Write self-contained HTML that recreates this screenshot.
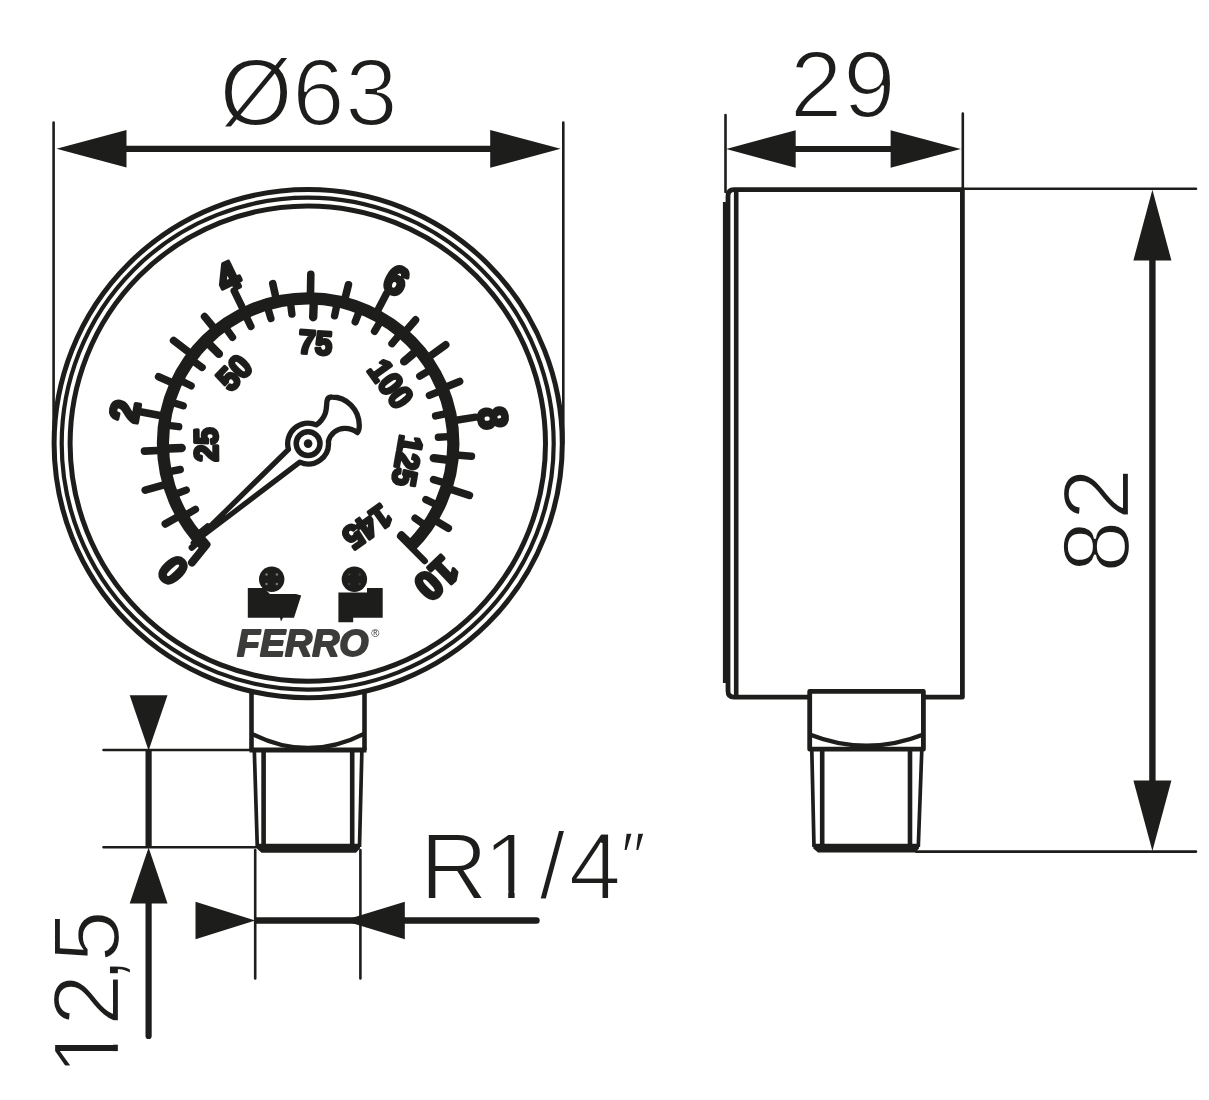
<!DOCTYPE html>
<html lang="en"><head><meta charset="utf-8"><title>Manometer 63 mm R1/4 dimensions</title>
<style>html,body{margin:0;padding:0;background:#fff}body{width:1209px;height:1100px;overflow:hidden}svg{display:block;will-change:transform}.dim{font-family:"Liberation Sans",sans-serif;font-size:94px;fill:#1d1d1b;stroke:#fff;stroke-width:2.2px}.bar{font-family:"Liberation Sans",sans-serif;font-weight:bold;font-size:40px;fill:#1d1d1b;stroke:#1d1d1b;stroke-width:4px;stroke-linejoin:round;text-anchor:middle}.psi{font-family:"Liberation Sans",sans-serif;font-weight:bold;font-size:33px;fill:#1d1d1b;stroke:#1d1d1b;stroke-width:3.3px;stroke-linejoin:round;text-anchor:middle}.logo{font-family:"Liberation Sans",sans-serif;font-weight:bold;font-style:italic;font-size:36.4px;fill:#3c3c3b;stroke:#3c3c3b;stroke-width:1.8px;stroke-linejoin:round}.reg{font-family:"Liberation Sans",sans-serif;font-size:11px;fill:#3c3c3b}</style></head><body>
<svg width="1209" height="1100" viewBox="0 0 1209 1100">
<rect width="1209" height="1100" fill="#fff"/>
<g fill="none" stroke="#1d1d1b">
<path d="M251.5 690V750M364.5 690V750" stroke-width="4.6"/>
<circle cx="308.2" cy="443.6" r="254.1" stroke-width="5" fill="#fff"/>
<circle cx="307.7" cy="443.6" r="246" stroke-width="4.2"/>
<circle cx="307.8" cy="443.6" r="237.7" stroke-width="5"/>
</g>
<g fill="none" stroke="#1d1d1b" stroke-linecap="round">
<path d="M204.4 545.2A145.2 145.2 0 1 1 410.6 546.5" stroke-width="12.2" stroke-linecap="butt"/>
<path d="M165.4 416.5L141.5 412M244.9 312.9L234.2 290.9M375.4 314.9L386.7 293.3M451.5 421L475.6 417.2" stroke-width="7.4"/>
<path d="M181.5 514.7L165.3 523.9M168.5 483.6L145.2 490.2M163.1 450.2L144.5 451.1M175.6 384.3L158.6 376.7M192.8 355.3L173.6 340.6M216.4 331L204.6 316.6M276.8 301.8L272.8 283.7M310.4 298.4L310.8 274.2M343.9 302.9L348.4 284.8M403.3 334L415.5 319.9M426.1 359L445.7 344.8M442.4 388.5L459.6 381.4M452.9 454.8L471.4 456.2M446.4 487.9L469.4 495.3M432.4 518.7L448.3 528.3" stroke-width="7.6"/>
<path d="M196.4 536.4L207.7 527M182.7 516.8L195.4 509.4M172.4 495.3L186.2 490.1M165.8 472.4L180.2 469.5M164.1 424.8L178.7 426.7M169.1 401.5L183.2 405.8M177.9 379.3L191.1 385.8M190.2 358.8L202.1 367.4M223.9 325.3L232.5 337.3M244.5 313.1L250.9 326.3M266.7 304.4L270.9 318.5M290.1 299.5L291.9 314.1M337.6 301.4L334.6 315.8M360.5 308.2L355.2 321.9M382 318.6L374.5 331.3M401.5 332.4L392 343.7M432.4 368.6L419.8 376.2M443 389.9L429.4 395.4M450 412.8L435.6 415.9M453.1 436.4L438.4 437.2M447.7 483.7L433.5 479.6M439.2 506L425.9 499.7M427.2 526.7L415.1 518.2M412 545L401.5 534.8" stroke-width="7.4"/>
<path d="M163 448.7L181.7 448M205.7 340.7L218.9 353.9M313.9 298.5L313.2 317.2M418.4 349.2L404.2 361.4M452.3 460.3L433.8 458.1" stroke-width="8.4"/>
<path d="M199.9 540.4L191.8 547.6" stroke-width="6.4"/>
<path d="M400.1 536.2L424.7 561" stroke-width="6.4"/>
</g>
<text class="bar" transform="translate(172.5 570.5) rotate(226.9) scale(.95 1)" x="0" y="14.3">0</text>
<text class="bar" transform="translate(124.5 411) rotate(-79.9) scale(.95 1)" x="0" y="14.3">2</text>
<text class="bar" transform="translate(227.8 276.6) rotate(-25.7) scale(.95 1)" x="0" y="14.3">4</text>
<text class="bar" transform="translate(396.5 280) rotate(28.4) scale(.95 1)" x="0" y="14.3">6</text>
<text class="bar" transform="translate(493.4 417.7) rotate(82) scale(.95 1)" x="0" y="14.3">8</text>
<text class="bar" transform="translate(437 578.6) rotate(136.3) scale(.95 1)" x="0" y="14.3">10</text>
<text class="psi" transform="translate(205.7 444.7) rotate(269.4) scale(.92 1)" x="0" y="11.8">25</text>
<text class="psi" transform="translate(234 372.4) rotate(-46.1) scale(.92 1)" x="0" y="11.8">50</text>
<text class="psi" transform="translate(315.4 342.1) rotate(4.1) scale(.92 1)" x="0" y="11.8">75</text>
<text class="psi" transform="translate(391 383.6) rotate(54.1) scale(.92 1)" x="0" y="11.8">100</text>
<text class="psi" transform="translate(407.8 461) rotate(99.9) scale(.92 1)" x="0" y="11.8">125</text>
<text class="psi" transform="translate(367.5 527) rotate(144.5) scale(.92 1)" x="0" y="11.8">145</text>
<path d="M288.5 449.4A20.4 20.4 0 0 1 316.3 424.9C319 423.5 323.5 418.5 325.3 413.3C326.6 409.5 326.6 405 326.9 401.5C327.2 398.6 329 396.9 332 397C346 397 359.5 409 359.3 426C359.2 429 358.6 431.3 357.3 432.6C354 429.8 349 428.2 344.4 428.3C337 428.5 330.2 433.5 328.4 441.4A20.4 20.4 0 0 1 299.8 462.2L193.2 543Z" fill="#fff" stroke="#1d1d1b" stroke-width="5.3" stroke-linejoin="round"/>
<path d="M206.5 544.5L192 562.6" stroke="#1d1d1b" stroke-width="8" stroke-linecap="round"/>
<circle cx="308.1" cy="443.6" r="11.9" fill="#fff" stroke="#1d1d1b" stroke-width="5.5"/>
<circle cx="308.1" cy="443.6" r="4.3" fill="#1d1d1b"/>
<g fill="#1d1d1b">
<circle cx="271.7" cy="579.3" r="12.7"/>
<path d="M247.8 588H264L270 594H296L301.2 595.5 294 617.7H283L281 621.5 280 617.7H247.8Z"/>
<circle cx="354.4" cy="579.3" r="12.7"/>
<path d="M338.4 592.4H367V588H382.7V617.7H353.2V622.2H338.4Z"/>
</g>
<g fill="#77776f"><circle cx="266.5" cy="574.5" r="1.25"/><circle cx="266.5" cy="584.1" r="1.25"/><circle cx="276.9" cy="574.5" r="1.25"/><circle cx="276.9" cy="584.1" r="1.25"/></g>
<g fill="#3d3d39"><circle cx="349.2" cy="574.5" r="1.25"/><circle cx="349.2" cy="584.1" r="1.25"/><circle cx="359.6" cy="574.5" r="1.25"/><circle cx="359.6" cy="584.1" r="1.25"/></g>
<text class="logo" x="237" y="655.8" textLength="131.5" lengthAdjust="spacingAndGlyphs">FERRO</text>
<text class="reg" x="371.3" y="637">®</text>
<g fill="none" stroke="#1d1d1b">
<path d="M249.5 750H366.5" stroke-width="5.2"/>
<path d="M251.5 733.6Q308 762.5 364.5 733.6" stroke-width="4.4"/>
<path d="M254.3 750L257.3 847M361.9 750L359.5 847" stroke-width="3.7"/>
<path d="M263.6 752V845M352.2 752V845" stroke-width="4.6"/>
</g>
<path d="M256.8 843.8H360V848.5L356 852.7H261.5L256.8 848.5Z" fill="#1d1d1b"/>
<g stroke="#1d1d1b" fill="none" stroke-linecap="round">
<path d="M53.6 122.5V443M563.3 122.5V443" stroke-width="2.6"/>
<path d="M120 148.8H496" stroke-width="6.2" stroke-linecap="butt"/>
<path d="M103.5 750H256M103.5 847.2H256" stroke-width="2.6"/>
<path d="M255.2 850V978.5M360.4 850V978.5" stroke-width="2.6"/>
<path d="M148.6 750V848" stroke-width="6.2" stroke-linecap="butt"/>
<path d="M148.6 900V1036" stroke-width="6.2"/>
<path d="M254 920.5H400" stroke-width="6.4" stroke-linecap="butt"/>
<path d="M400 920.5H536.5" stroke-width="6.4"/>
</g>
<g fill="#1d1d1b">
<path d="M56.5 148.8L126.5 130V167.6Z"/>
<path d="M560.6 148.8L490.2 129.9V167.8Z"/>
<path d="M148.6 750.5L129.7 695.2H167.5Z"/>
<path d="M148.6 847.5L129.7 903.5H167.5Z"/>
<path d="M255.2 920.5L195.5 901.7V939.3Z"/>
<path d="M343.5 920.5L404.8 901.7V939.3Z"/>
</g>
<g fill="none" stroke="#1d1d1b" stroke-linejoin="round">
<path d="M809.7 697.2H734Q728 697.2 728 691V196Q728 189.7 734 189.7H962.4V697.2H923.4" stroke-width="4.8"/>
<path d="M736.2 189.7V697.2" stroke-width="4.6"/>
<rect x="809.7" y="691.4" width="113.7" height="57.8" stroke-width="4.8"/>
<path d="M809.7 734.5Q866.5 757 923.4 734.5" stroke-width="4.4"/>
<path d="M811.8 750L814 847M921.8 750L918.3 847" stroke-width="3.7"/>
<path d="M822.2 751V845M910 751V845" stroke-width="4.6"/>
</g>
<rect x="722.9" y="202" width="5.5" height="481" fill="#1d1d1b"/>
<path d="M813.3 843.8H919V848.5L915 852.6H818L813.3 848.5Z" fill="#1d1d1b"/>
<g stroke="#1d1d1b" fill="none" stroke-linecap="round">
<path d="M725.5 115V192M962.8 113.5V190" stroke-width="2.6"/>
<path d="M962 188.8H1196M916 851.6H1196" stroke-width="2.6"/>
<path d="M790 149H896" stroke-width="6" stroke-linecap="butt"/>
<path d="M1152.4 255V785" stroke-width="6.4" stroke-linecap="butt"/>
</g>
<g fill="#1d1d1b">
<path d="M726.2 149L795.7 130.3V167.8Z"/>
<path d="M960.8 149L890.6 130.3V167.8Z"/>
<path d="M1152.4 189.8L1133.4 260.4H1171.4Z"/>
<path d="M1152.4 851L1133.4 780.5H1171.4Z"/>
</g>
<text class="dim" x="219.4 292.3 345.2" y="124.8">Ø63</text>
<text class="dim" x="420 483.6 539.2 568.7" y="898.8">R1/4</text>
<text class="dim" x="620.7" y="881.5" style="font-size:70px;stroke-width:1.6px">″</text>
<text class="dim" x="790.1 843.3" y="117.1">29</text>
<text class="dim" transform="translate(1129.2 601.5) rotate(-90)" x="28.8 81.2" y="0">82</text>
<text class="dim" transform="translate(119.1 1101) rotate(-90)" x="25.3 74.9 117.9 138.5" y="0">12,5</text>
<g fill="#fff">
<rect x="488.6" y="890.4" width="19.6" height="10.4"/><rect x="514.6" y="890.4" width="19" height="10.4"/>
<g transform="translate(119.1 1101) rotate(-90)"><rect x="30.3" y="-8.4" width="19.6" height="10.4"/><rect x="56.3" y="-8.4" width="19" height="10.4"/></g>
</g>
</svg></body></html>
